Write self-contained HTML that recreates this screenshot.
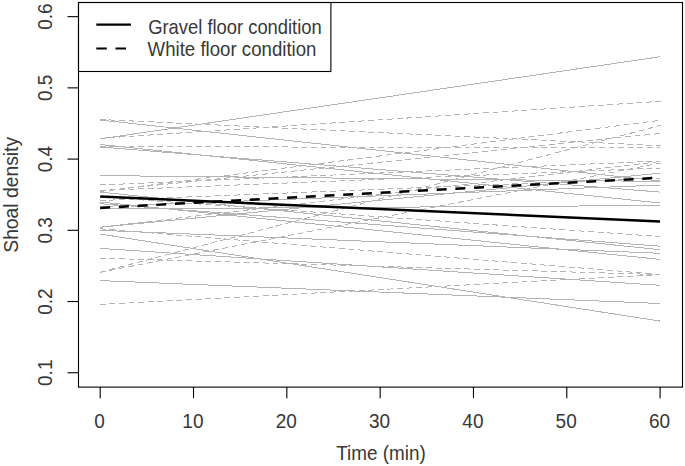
<!DOCTYPE html>
<html><head><meta charset="utf-8"><style>
html,body{margin:0;padding:0;background:#fff;width:685px;height:466px;overflow:hidden}
svg{display:block}
text{font-family:"Liberation Sans",sans-serif;font-size:21px;fill:#383838}
</style></head><body>
<svg width="685" height="466" viewBox="0 0 685 466">
<rect width="685" height="466" fill="#fff"/>
<g stroke="#b4b4b4" stroke-width="1" fill="none" shape-rendering="crispEdges">
<line x1="100.2" y1="138.9" x2="660.1" y2="56.75"/>
<line x1="100.2" y1="120.0" x2="660.1" y2="181.0"/>
<line x1="100.2" y1="147.0" x2="660.1" y2="192.1"/>
<line x1="100.2" y1="144.5" x2="660.1" y2="203.0"/>
<line x1="100.2" y1="175.6" x2="660.1" y2="181.4"/>
<line x1="100.2" y1="234.1" x2="660.1" y2="321.1"/>
<line x1="100.2" y1="248.4" x2="660.1" y2="285.3"/>
<line x1="100.2" y1="280.6" x2="660.1" y2="303.5"/>
<line x1="100.2" y1="230.3" x2="660.1" y2="253.3"/>
<line x1="100.2" y1="192.1" x2="660.1" y2="249.7"/>
<line x1="100.2" y1="202.0" x2="660.1" y2="259.4"/>
<line x1="100.2" y1="203.7" x2="660.1" y2="246.2"/>
<line x1="100.2" y1="227.2" x2="660.1" y2="173.2"/>
<line x1="100.2" y1="209.0" x2="660.1" y2="205.5"/>
<line x1="100.2" y1="206.5" x2="660.1" y2="185.1"/>
</g>
<g stroke="#b4b4b4" stroke-width="1" fill="none" stroke-dasharray="5.9 3.7" shape-rendering="crispEdges">
<line x1="99.8" y1="119.48" x2="660.5" y2="145.7"/>
<line x1="99.8" y1="138.33" x2="660.5" y2="101.3"/>
<line x1="99.8" y1="146.60" x2="660.5" y2="147.8"/>
<line x1="99.8" y1="191.55" x2="660.5" y2="120.3"/>
<line x1="99.8" y1="272.30" x2="660.5" y2="125.4"/>
<line x1="99.8" y1="272.38" x2="660.5" y2="163.0"/>
<line x1="99.8" y1="185.02" x2="660.5" y2="161.0"/>
<line x1="99.8" y1="227.35" x2="660.5" y2="161.5"/>
<line x1="99.8" y1="228.77" x2="660.5" y2="274.5"/>
<line x1="99.8" y1="258.19" x2="660.5" y2="274.6"/>
<line x1="99.8" y1="304.52" x2="660.5" y2="274.6"/>
<line x1="99.8" y1="196.97" x2="660.5" y2="236.6"/>
<line x1="99.8" y1="190.52" x2="660.5" y2="168.0"/>
<line x1="99.8" y1="200.52" x2="660.5" y2="178.0"/>
<line x1="99.8" y1="191.04" x2="660.5" y2="133.4"/>
</g>
<line x1="100.2" y1="196.5" x2="660.1" y2="221.6" stroke="#000" stroke-width="2.5"/>
<line x1="100.2" y1="207.9" x2="660.1" y2="177.7" stroke="#000" stroke-width="2.5" stroke-dasharray="10 8.72"/>
<g stroke="#000" stroke-width="1.1" fill="none">
<rect x="78.5" y="2.5" width="604" height="384.6"/>
<line x1="67.5" y1="372.75" x2="78.5" y2="372.75"/>
<line x1="67.5" y1="301.53" x2="78.5" y2="301.53"/>
<line x1="67.5" y1="230.31" x2="78.5" y2="230.31"/>
<line x1="67.5" y1="159.09" x2="78.5" y2="159.09"/>
<line x1="67.5" y1="87.87" x2="78.5" y2="87.87"/>
<line x1="67.5" y1="16.65" x2="78.5" y2="16.65"/>
<line x1="100.2" y1="387" x2="100.2" y2="398.2"/>
<line x1="193.51666666666665" y1="387" x2="193.51666666666665" y2="398.2"/>
<line x1="286.8333333333333" y1="387" x2="286.8333333333333" y2="398.2"/>
<line x1="380.15" y1="387" x2="380.15" y2="398.2"/>
<line x1="473.46666666666664" y1="387" x2="473.46666666666664" y2="398.2"/>
<line x1="566.7833333333333" y1="387" x2="566.7833333333333" y2="398.2"/>
<line x1="660.1" y1="387" x2="660.1" y2="398.2"/>
<rect x="78.5" y="2.5" width="252.4" height="69"/>
</g>
<g fill="#fff"></g>
<line x1="96.3" y1="24.6" x2="130.9" y2="24.6" stroke="#000" stroke-width="2.2"/>
<line x1="96.3" y1="48.5" x2="127" y2="48.5" stroke="#000" stroke-width="2.2" stroke-dasharray="10.5 8.7"/>
<g transform="translate(148.2,33.8) scale(0.875,1)"><text x="0" y="0">Gravel floor condition</text></g>
<g transform="translate(147.6,55.8) scale(0.888,1)"><text x="0" y="0">White floor condition</text></g>
<g transform="translate(51.6,372.75) rotate(-90) scale(0.905,1)"><text text-anchor="middle">0.1</text></g>
<g transform="translate(51.6,301.53) rotate(-90) scale(0.905,1)"><text text-anchor="middle">0.2</text></g>
<g transform="translate(51.6,230.31) rotate(-90) scale(0.905,1)"><text text-anchor="middle">0.3</text></g>
<g transform="translate(51.6,159.09) rotate(-90) scale(0.905,1)"><text text-anchor="middle">0.4</text></g>
<g transform="translate(51.6,87.87) rotate(-90) scale(0.905,1)"><text text-anchor="middle">0.5</text></g>
<g transform="translate(51.6,16.65) rotate(-90) scale(0.905,1)"><text text-anchor="middle">0.6</text></g>
<g transform="translate(99.60,428.0) scale(0.905,1)"><text text-anchor="middle">0</text></g>
<g transform="translate(192.92,428.0) scale(0.905,1)"><text text-anchor="middle">10</text></g>
<g transform="translate(286.23,428.0) scale(0.905,1)"><text text-anchor="middle">20</text></g>
<g transform="translate(379.55,428.0) scale(0.905,1)"><text text-anchor="middle">30</text></g>
<g transform="translate(472.87,428.0) scale(0.905,1)"><text text-anchor="middle">40</text></g>
<g transform="translate(566.18,428.0) scale(0.905,1)"><text text-anchor="middle">50</text></g>
<g transform="translate(659.50,428.0) scale(0.905,1)"><text text-anchor="middle">60</text></g>
<g transform="translate(381.0,459.7) scale(0.9,1)"><text text-anchor="middle">Time (min)</text></g>
<g transform="translate(17.6,194.8) rotate(-90) scale(0.92,1)"><text text-anchor="middle">Shoal density</text></g>
</svg>
</body></html>
